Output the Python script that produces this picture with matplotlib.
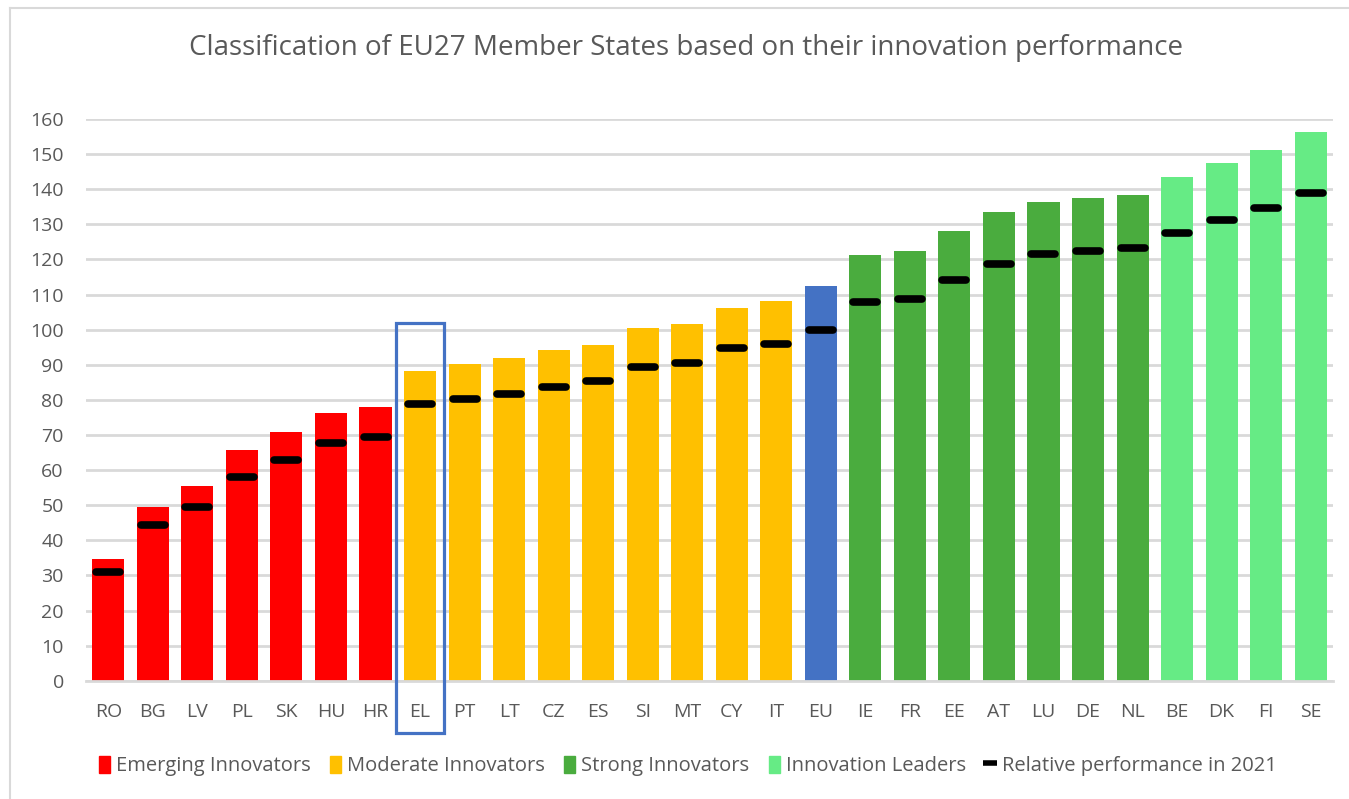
"""Classification of EU27 Member States based on their innovation performance."""

import matplotlib

matplotlib.use("Agg")

import matplotlib.pyplot as plt
import numpy as np
from matplotlib.lines import Line2D
from matplotlib.markers import MarkerStyle
from matplotlib.patches import Patch, Rectangle


COUNTRIES = ["RO", "BG", "LV", "PL", "SK", "HU", "HR", "EL", "PT", "LT", "CZ",
             "ES", "SI", "MT", "CY", "IT", "EU", "IE", "FR", "EE", "AT", "LU",
             "DE", "NL", "BE", "DK", "FI", "SE"]
GROUPS = ["emerging"] * 7 + ["moderate"] * 9 + ["eu"] + ["strong"] * 7 + ["leader"] * 4
PERFORMANCE_2022 = [34.8, 49.6, 55.5, 65.7, 70.8, 76.3, 78.1, 88.2, 90.1, 92.0, 94.2,
                    95.6, 100.4, 101.5, 106.3, 108.1, 112.5, 121.2, 122.3, 128.2,
                    133.6, 136.5, 137.6, 138.4, 143.4, 147.5, 151.1, 156.2]
PERFORMANCE_2021 = [30.9, 44.4, 49.5, 58.0, 63.0, 67.8, 69.5, 78.7, 80.2, 81.6, 83.8,
                    85.3, 89.3, 90.4, 94.8, 95.8, 99.9, 107.9, 108.7, 114.1, 118.8,
                    121.5, 122.5, 123.3, 127.6, 131.3, 134.6, 138.9]
HIGHLIGHT = "EL"

COLORS = {
    "emerging": "#FF0000",
    "moderate": "#FFC000",
    "strong": "#4AAC3E",
    "leader": "#66EB85",
    "eu": "#4472C4",
    "text": "#595959",
    "grid": "#D9D9D9",
}

plt.rcParams.update({
    "font.family": ["Open Sans", "DejaVu Sans"],
    "font.size": 14,
    "text.color": COLORS["text"],
})

fig = plt.figure(figsize=(13.49, 7.99), dpi=100)
ax = fig.add_axes([0.0638, 0.148, 0.9243, 0.703])

x = np.arange(len(COUNTRIES))
ax.bar(x, PERFORMANCE_2022, width=0.72, color=[COLORS[g] for g in GROUPS], zorder=2)
dash = MarkerStyle("_", capstyle="round")
ax.plot(x, PERFORMANCE_2021, ls="none", marker=dash, ms=17, mew=5.5,
        color="black", zorder=3)

ax.set_xlim(-0.5, len(COUNTRIES) - 0.5)
ax.set_ylim(0, 160)
ax.set_yticks(np.arange(0, 161, 10))
ax.set_xticks(x)
ax.set_xticklabels(COUNTRIES)
ax.tick_params(axis="both", length=0, labelsize=14, labelcolor=COLORS["text"])
ax.tick_params(axis="y", pad=16)
ax.tick_params(axis="x", pad=16)
ax.grid(axis="y", color=COLORS["grid"], linewidth=2, zorder=0)
for side in ["top", "right", "left"]:
    ax.spines[side].set_visible(False)
ax.spines["bottom"].set_color(COLORS["grid"])
ax.spines["bottom"].set_linewidth(2)

# box around the highlighted country, reaching down over its label
i = COUNTRIES.index(HIGHLIGHT)
ax.add_patch(Rectangle((i - 0.54, -14.9), 1.08, 116.7, fill=False,
                       edgecolor=COLORS["eu"], linewidth=2.3, clip_on=False,
                       zorder=4))

fig.text(686 / 1349, 1 - 48.5 / 799, "Classification of EU27 Member States based on "
         "their innovation performance", ha="center", va="center",
         fontsize=20, color=COLORS["text"])

handles = [
    Patch(color=COLORS["emerging"], label="Emerging Innovators"),
    Patch(color=COLORS["moderate"], label="Moderate Innovators"),
    Patch(color=COLORS["strong"], label="Strong Innovators"),
    Patch(color=COLORS["leader"], label="Innovation Leaders"),
    Line2D([], [], ls="none", marker="_", ms=10, mew=4, color="black",
           label="Relative performance in 2021"),
]
fig.legend(handles=handles, loc="center", bbox_to_anchor=(688 / 1349, 1 - 766 / 799),
           ncol=5, frameon=False, fontsize=14.5, handlelength=0.55,
           handleheight=0.9, handletextpad=0.3, columnspacing=0.95)

# chart area border (left and top edges visible)
fig.add_artist(Line2D([10 / 1349, 10 / 1349], [0, 1 - 8 / 799],
                      color=COLORS["grid"], linewidth=1.5))
fig.add_artist(Line2D([10 / 1349, 1], [1 - 8 / 799, 1 - 8 / 799],
                      color=COLORS["grid"], linewidth=1.5))

fig.savefig("out.png", dpi=100)
